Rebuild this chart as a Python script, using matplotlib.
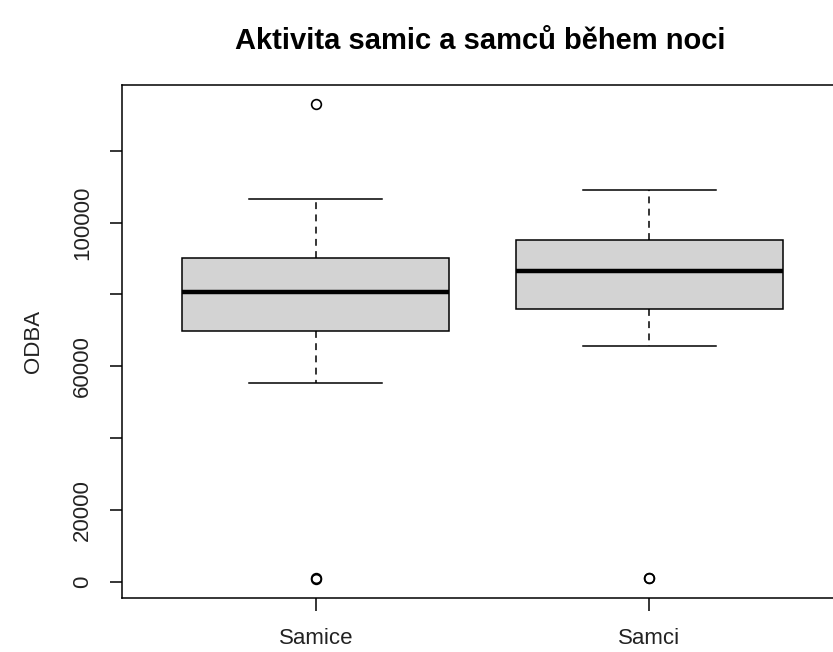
import matplotlib
matplotlib.use("Agg")
import matplotlib.pyplot as plt

plt.rcParams['font.family'] = ['Liberation Sans', 'DejaVu Sans']

# skupiny a odečtené hodnoty krabicových grafů
groups = ['Samice', 'Samci']
whislo = [55400, 65500]
q1 = [69700, 76000]
med = [80600, 86500]
q3 = [90200, 95200]
whishi = [106500, 109100]
fliers = [[800, 1000, 133000], [900, 1100]]

yticks = [0, 20000, 40000, 60000, 80000, 100000, 120000]
ylabels = ['0', '20000', '', '60000', '', '100000', '']

stats = []
for i in range(len(groups)):
    stats.append({'label': groups[i], 'whislo': whislo[i], 'q1': q1[i], 'med': med[i],
                  'q3': q3[i], 'whishi': whishi[i], 'fliers': fliers[i]})

fig = plt.figure(figsize=(8.33, 6.52), dpi=100)
ax = fig.add_axes([0.1468, 0.0833, 0.865, 0.7863])

ax.bxp(stats, positions=[1, 2], widths=0.8, patch_artist=True,
       boxprops=dict(facecolor='#d3d3d3', edgecolor='black', linewidth=1.1),
       medianprops=dict(color='black', linewidth=3.2, solid_capstyle='butt'),
       whiskerprops=dict(color='black', linewidth=1.1, linestyle=(0, (4.5, 3.5))),
       capprops=dict(color='black', linewidth=1.1),
       capwidths=0.4,
       flierprops=dict(marker='o', markerfacecolor='none', markeredgecolor='black',
                       markersize=7, markeredgewidth=1.2))

# R-style rozsah os (4 % navíc)
all_vals = whislo + whishi + [v for f in fliers for v in f]
lo, hi = min(all_vals), max(all_vals)
pad = 0.04 * (hi - lo)
ax.set_ylim(lo - pad, hi + pad)
ax.set_xlim(0.42, 2.58)

ax.set_yticks(yticks)
ax.set_yticklabels(ylabels, rotation=90, va='center', fontsize=16, color='#222222')
ax.set_xticks([1, 2])
ax.set_xticklabels(groups, fontsize=16, color='#222222')
ax.tick_params(length=9, width=1.1)
ax.tick_params(axis='y', pad=12)
ax.tick_params(axis='x', pad=13)
for s in ax.spines.values():
    s.set_linewidth(1.1)

ax.set_ylabel('ODBA', fontsize=16, labelpad=20, color='#222222')
fig.suptitle('Aktivita samic a samců během noci', fontsize=21, fontweight='bold',
             x=0.577, y=0.958)

fig.savefig('out.png', dpi=100)
